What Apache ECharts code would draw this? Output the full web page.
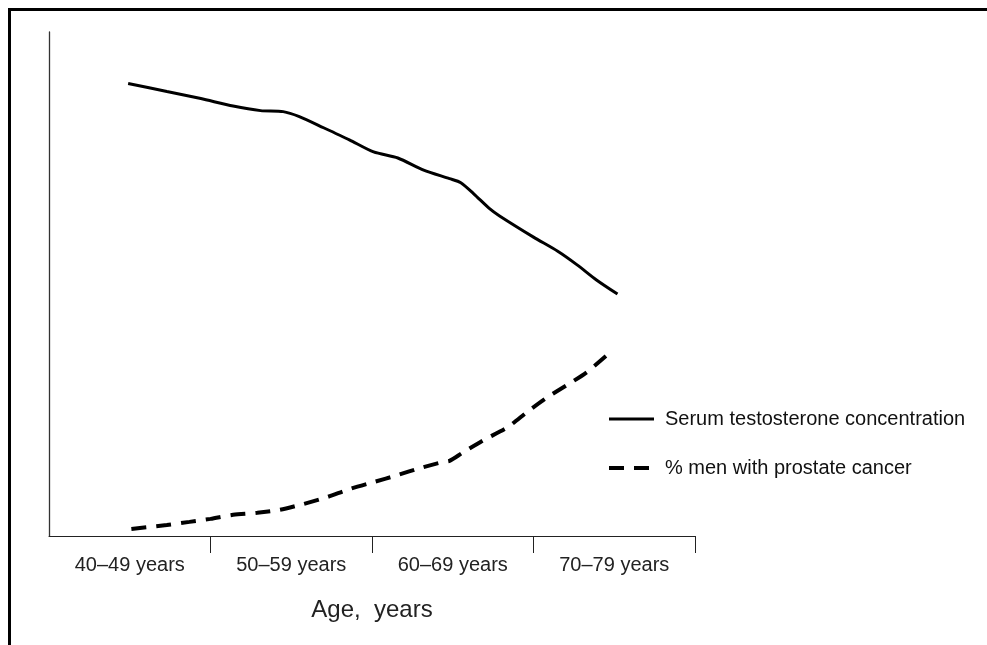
<!DOCTYPE html>
<html>
<head>
<meta charset="utf-8">
<script src="https://cdn.jsdelivr.net/npm/echarts@6/dist/echarts.min.js"></script>
<style>
html,body{margin:0;padding:0;background:#fff;}
#chart{width:987px;height:645px;}
</style>
</head>
<body>
<div id="chart"></div>
<script>
// Age groups (x axis spans ages 40..80)
const categories = ["40\u201349 years", "50\u201359 years", "60\u201369 years", "70\u201379 years"];
const labelAges = [45, 55, 65, 75];
const tickAges = [50, 60, 70, 80];
const seriesNames = ["Serum testosterone concentration", "% men with prostate cancer"];

// [age, relative value]
const testosterone = [
  [44.9, 89.8], [47.3, 88.2], [49.4, 86.8], [51.4, 85.3], [53.1, 84.4], [54.5, 84.2],
  [55.5, 83.2], [57.0, 81.0], [58.6, 78.6], [60.1, 76.2], [61.6, 75.0], [63.2, 72.6],
  [64.8, 70.9], [65.5, 70.1], [66.3, 67.9], [67.3, 64.9], [67.9, 63.5], [70.0, 59.3],
  [71.5, 56.5], [72.7, 53.8], [73.9, 50.8], [75.2, 48.0]
];
const prostateCancer = [
  [45.1, 1.4], [47.3, 2.2], [48.7, 2.8], [50.0, 3.4], [51.4, 4.2], [52.9, 4.6],
  [54.3, 5.2], [55.7, 6.3], [57.2, 7.7], [58.6, 9.3], [60.1, 10.7], [61.6, 12.1],
  [63.0, 13.5], [64.4, 14.7], [64.8, 14.9], [65.6, 16.5], [66.9, 19.0], [68.4, 21.6],
  [69.6, 24.6], [70.8, 27.4], [72.1, 30.0], [73.3, 32.5], [74.7, 36.3]
];

const FONT = "'Liberation Sans', Arial, sans-serif";
const chart = echarts.init(document.getElementById('chart'), null, {renderer: 'canvas'});
chart.setOption({
  backgroundColor: '#fff',
  animation: false,
  graphic: [{
    type: 'rect',
    left: 7, top: 7,
    shape: {width: 1000, height: 700},
    style: {fill: 'none', stroke: '#000', lineWidth: 3},
    silent: true
  }],
  grid: {left: 49, right: 292, top: 32, bottom: 109},
  xAxis: {
    type: 'value',
    min: 40, max: 80,
    name: 'Age,  years',
    nameLocation: 'middle',
    nameGap: 62,
    nameTextStyle: {fontFamily: FONT, fontSize: 24, color: '#222'},
    axisLine: {show: true, lineStyle: {color: '#222', width: 1}},
    axisTick: {show: true, customValues: tickAges, length: 17, lineStyle: {color: '#222', width: 1}},
    axisLabel: {
      show: true,
      customValues: labelAges,
      margin: 19,
      fontFamily: FONT, fontSize: 20, color: '#222',
      formatter: function (v) { return categories[labelAges.indexOf(v)] || ''; }
    },
    splitLine: {show: false}
  },
  yAxis: {
    type: 'value',
    min: 0, max: 100,
    axisLine: {show: true, lineStyle: {color: '#333', width: 1.3}},
    axisTick: {show: false},
    axisLabel: {show: false},
    splitLine: {show: false}
  },
  legend: {
    orient: 'vertical',
    left: 609, top: 409, padding: 0,
    itemWidth: 51, itemHeight: 4, itemGap: 29,
    textStyle: {fontFamily: FONT, fontSize: 20, color: '#111'},
    data: [
      {name: seriesNames[0], icon: 'path://M0 0H45V3H0Z M51 0V3', itemStyle: {color: '#000'}},
      {name: seriesNames[1], icon: 'path://M0 0H15V4H0Z M25 0H40V4H25Z M51 0V4', itemStyle: {color: '#000'}}
    ]
  },
  series: [
    {
      name: seriesNames[0],
      type: 'line',
      data: testosterone,
      symbol: 'none',
      smooth: 0.25,
      lineStyle: {color: '#000', width: 3},
      itemStyle: {color: '#000'}
    },
    {
      name: seriesNames[1],
      type: 'line',
      data: prostateCancer,
      symbol: 'none',
      smooth: 0.25,
      lineStyle: {color: '#000', width: 4, type: [15, 10]},
      itemStyle: {color: '#000'}
    }
  ]
});
</script>
</body>
</html>
